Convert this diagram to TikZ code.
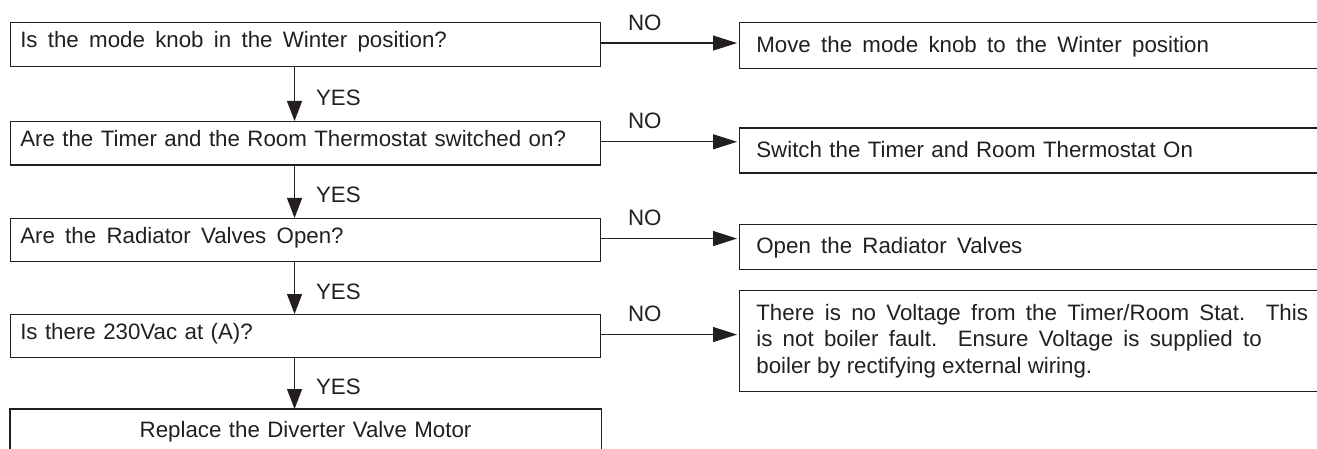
\documentclass[tikz,border=0pt]{standalone}
\usepackage{fontspec}
\setmainfont{Liberation Sans}
\usetikzlibrary{arrows.meta}
\definecolor{ink}{HTML}{231F20}
\begin{document}
\begin{tikzpicture}[x=1pt,y=-1pt,
  font=\fontsize{22.3}{26.8}\selectfont, text=ink,
  box/.style={draw=ink, line width=1.1pt, anchor=north west, inner ysep=0pt, align=left},
  lbox/.style={box, minimum width=590pt, minimum height=44pt, text width=570.6pt, inner xsep=9.7pt, text height=16pt, text depth=9.5pt},
  rbox/.style={box, minimum width=620pt, text width=586.4pt, inner xsep=16.8pt},
  rone/.style={rbox, text height=16pt, text depth=3pt},
  wide/.style={execute at begin node={\spaceskip=10.3pt\relax}},
  lab/.style={inner sep=0pt, text height=16pt, text depth=0pt},
  yes/.style={-{Triangle[length=20pt,width=15pt]}, draw=ink, line width=1.1pt},
  no/.style={-{Triangle[length=24pt,width=15pt]}, draw=ink, line width=1.1pt, shorten >=2pt}]
\useasboundingbox (0,0) rectangle (1317,449);
% left column
\node[lbox,wide] (q1) at (10,22) {Is the mode knob in the Winter position?};
\node[lbox,minimum height=43.5pt] (q2) at (10,121) {Are the Timer and the Room Thermostat switched on?};
\node[lbox,wide,minimum height=43pt] (q3) at (10,218) {Are the Radiator Valves Open?};
\node[lbox,minimum height=43pt] (q4) at (10,314) {Is there 230Vac at (A)?};
\node[lbox,minimum height=40pt,align=center,text depth=0pt,draw=none] (q5) at (10,409) {Replace the Diverter Valve Motor};
\draw[draw=ink,line width=1.1pt] ([yshift=-6pt]q5.south west) -- (q5.north west) -- (q5.north east) -- ([yshift=-6pt]q5.south east);
% right column
\node[rone,wide,minimum height=46pt] (a1) at (739,22) {Move the mode knob to the Winter position};
\node[rone,minimum height=45pt] (a2) at (739,127.5) {Switch the Timer and Room Thermostat On};
\node[rone,wide,minimum height=44.5pt] (a3) at (739,224) {Open the Radiator Valves};
\node[rbox,wide,minimum height=101pt] (a4) at (739,290) {There is no Voltage from the Timer/Room Stat.\ \ This\\ is not boiler fault.\ \ Ensure Voltage is supplied to\\ \spaceskip=0pt\relax boiler by rectifying external wiring.};
% YES arrows
\draw[yes] ([xshift=-11pt]q1.south) -- ([xshift=-11pt]q2.north) node[lab,pos=.5,anchor=west,xshift=21pt,yshift=-3pt] (y1) {YES};
\draw[yes] ([xshift=-11pt]q2.south) -- ([xshift=-11pt]q3.north) node[lab,pos=.5,anchor=west,xshift=21pt,yshift=-3pt] (y2) {YES};
\draw[yes] ([xshift=-11pt]q3.south) -- ([xshift=-11pt]q4.north) node[lab,pos=.5,anchor=west,xshift=21pt,yshift=-3pt] (y3) {YES};
\draw[yes] ([xshift=-11pt]q4.south) -- ([xshift=-11pt]q5.north) node[lab,pos=.5,anchor=west,xshift=21pt,yshift=-3pt] (y4) {YES};
% NO arrows
\draw[no] ([yshift=1.5pt]q1.east) -- ([yshift=1.5pt]q1.east -| a1.west) node[lab,pos=.317,yshift=21pt] (n1) {NO};
\draw[no] ([yshift=1.5pt]q2.east) -- ([yshift=1.5pt]q2.east -| a2.west) node[lab,pos=.317,yshift=21pt] (n2) {NO};
\draw[no] ([yshift=1.5pt]q3.east) -- ([yshift=1.5pt]q3.east -| a3.west) node[lab,pos=.317,yshift=21pt] (n3) {NO};
\draw[no] ([yshift=1.5pt]q4.east) -- ([yshift=1.5pt]q4.east -| a4.west) node[lab,pos=.317,yshift=21pt] (n4) {NO};
\end{tikzpicture}
\end{document}
